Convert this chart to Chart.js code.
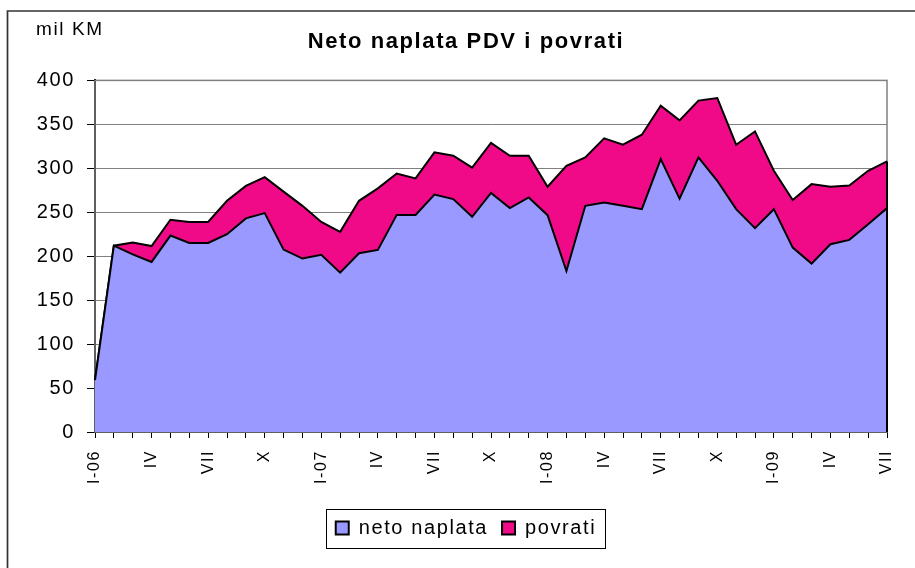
<!DOCTYPE html>
<html>
<head>
<meta charset="utf-8">
<script src="https://cdn.jsdelivr.net/npm/chart.js@4/dist/chart.umd.min.js"></script>
<style>
html,body{margin:0;padding:0;background:#fff;}
#wrap{width:915px;height:568px;}
</style>
</head>
<body>
<div id="wrap"><canvas id="c" width="915" height="568"></canvas></div>
<script>
// ---- data (mil KM) ----
const categories = [
  'I-06','II-06','III-06','IV-06','V-06','VI-06','VII-06','VIII-06','IX-06','X-06','XI-06','XII-06',
  'I-07','II-07','III-07','IV-07','V-07','VI-07','VII-07','VIII-07','IX-07','X-07','XI-07','XII-07',
  'I-08','II-08','III-08','IV-08','V-08','VI-08','VII-08','VIII-08','IX-08','X-08','XI-08','XII-08',
  'I-09','II-09','III-09','IV-09','V-09','VI-09','VII-09'
];
const tickLabels = [
  'I-06','','','IV','','','VII','','','X','','',
  'I-07','','','IV','','','VII','','','X','','',
  'I-08','','','IV','','','VII','','','X','','',
  'I-09','','','IV','','','VII'
];
const netoNaplata = [
  59,212,202,193.5,223.5,215,215,225,243,249,207.5,197.3,
  201.5,181.3,203.4,207.2,247,247,270.2,265,244.8,272,254.7,266.8,
  246.7,183.2,257.3,261.1,257.3,253.5,310.5,265.5,312.4,285.8,253.5,231.9,
  253.5,209.8,191.6,213.6,218.6,236.4,254.7
];
const povrati = [
  0,0,13.5,18,18,24,24,38,37,41,66,60,
  37.5,46.4,59.6,70,47,41.5,48,49.3,56,57,59.6,47.5,
  32.3,119.7,55,73,69.5,84.7,60.8,89,64.6,94.2,73.3,110.1,
  43.7,54,90.4,65.4,61.9,60.8,53.1
];
const seriesNames = ['neto naplata','povrati'];
const unitLabel = 'mil KM';
const chartTitle = 'Neto naplata PDV i povrati';

const FONT = "'Liberation Sans', Arial, Helvetica, sans-serif";
const LETTER_SPACING = '1.6px';
Chart.defaults.font.family = FONT;
Chart.defaults.color = '#000';

const decor = {
  id: 'decor',
  beforeUpdate(chart) { chart.ctx.letterSpacing = LETTER_SPACING; },
  beforeDraw(chart) {
    const ctx = chart.ctx;
    ctx.save();
    ctx.fillStyle = '#fff';
    ctx.fillRect(0, 0, chart.width, chart.height);
    // outer frame (left + top visible)
    ctx.strokeStyle = '#333';
    ctx.lineWidth = 1.7;
    ctx.beginPath();
    ctx.moveTo(7.5, chart.height);
    ctx.lineTo(7.5, 11);
    ctx.lineTo(chart.width, 11);
    ctx.stroke();
    ctx.restore();
  },
  beforeDatasetsDraw(chart) {
    const {ctx, chartArea: a} = chart;
    ctx.save();
    ctx.strokeStyle = '#808080';
    ctx.lineWidth = 1.5;
    ctx.strokeRect(a.left, a.top, a.right - a.left, a.bottom - a.top);
    ctx.restore();
  },
  afterDatasetsDraw(chart) {
    const {ctx, chartArea: a, scales} = chart;
    const last = netoNaplata.length - 1;
    const yTop = scales.y.getPixelForValue(netoNaplata[last] + povrati[last]);
    ctx.save();
    ctx.strokeStyle = '#000';
    ctx.lineWidth = 2;
    ctx.beginPath();
    ctx.moveTo(a.right, yTop);
    ctx.lineTo(a.right, a.bottom);
    ctx.stroke();
    ctx.restore();
  },
  afterDraw(chart) {
    const ctx = chart.ctx;
    ctx.save();
    ctx.fillStyle = '#000';
    ctx.font = '19px ' + FONT;
    ctx.textAlign = 'left';
    ctx.textBaseline = 'alphabetic';
    ctx.fillText(unitLabel, 36, 35);
    // legend frame
    const hb = chart.legend.legendHitBoxes;
    if (hb && hb.length) {
      const l = hb[0].left - 10;
      const r = hb[hb.length - 1].left + hb[hb.length - 1].width + 8;
      const cy = hb[0].top + hb[0].height / 2;
      ctx.strokeStyle = '#000';
      ctx.lineWidth = 1;
      ctx.strokeRect(Math.round(l) + 0.5, Math.round(cy - 19.5) + 0.5, Math.round(r - l), 39);
    }
    ctx.restore();
  }
};

new Chart(document.getElementById('c'), {
  type: 'line',
  data: {
    labels: categories,
    datasets: [
      {
        label: seriesNames[0],
        data: netoNaplata,
        backgroundColor: '#9999FF',
        borderColor: '#000',
        borderWidth: 2,
        fill: 'origin',
        pointRadius: 0,
        tension: 0
      },
      {
        label: seriesNames[1],
        data: povrati,
        backgroundColor: '#F00A87',
        borderColor: '#000',
        borderWidth: 2,
        fill: '-1',
        pointRadius: 0,
        tension: 0
      }
    ]
  },
  options: {
    responsive: false,
    animation: false,
    devicePixelRatio: 1,
    layout: { padding: { left: 45, right: 28, top: 0, bottom: 20 } },
    plugins: {
      title: {
        display: true,
        text: chartTitle,
        color: '#000',
        font: { size: 22, weight: 'bold', family: FONT },
        padding: { top: 29, bottom: 25 }
      },
      legend: {
        display: true,
        position: 'bottom',
        labels: {
          color: '#000',
          font: { size: 20, family: FONT },
          boxWidth: 13,
          boxHeight: 13,
          padding: 14
        }
      },
      tooltip: { enabled: false }
    },
    scales: {
      x: {
        type: 'category',
        offset: false,
        afterFit(scale) {
          scale.height = 72;
          scale.paddingRight = 0;
        },
        grid: {
          display: true,
          drawOnChartArea: false,
          drawTicks: true,
          tickLength: 6,
          color: '#000',
          tickColor: '#000',
          lineWidth: 1
        },
        border: { display: true, color: '#000', width: 2 },
        ticks: {
          autoSkip: false,
          minRotation: 90,
          maxRotation: 90,
          padding: 12,
          font: { size: 16, family: FONT },
          color: '#000',
          callback: (v, i) => tickLabels[i]
        }
      },
      y: {
        stacked: true,
        min: 0,
        max: 400,
        afterFit(scale) {
          scale.width = 50;
          // let the tick labels extend left of the narrow axis box
          scale._computeLabelArea = () => undefined;
        },
        grid: {
          color: '#808080',
          tickColor: '#000',
          lineWidth: 1,
          drawTicks: true,
          tickLength: 8
        },
        border: { display: true, color: '#000', width: 2 },
        ticks: {
          stepSize: 50,
          padding: 12,
          font: { size: 20, family: FONT },
          color: '#000'
        }
      }
    }
  },
  plugins: [decor]
});
</script>
</body>
</html>
